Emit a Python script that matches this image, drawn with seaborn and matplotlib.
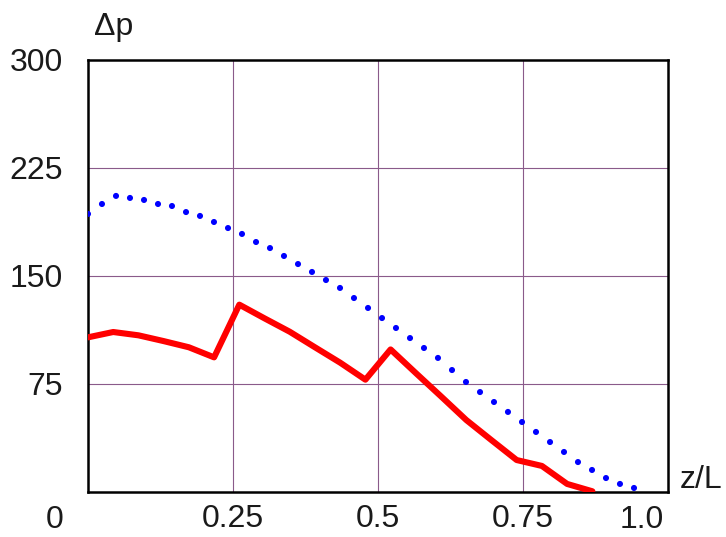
import numpy as np
import pandas as pd
import seaborn as sns
import matplotlib.pyplot as plt

# red curve (solid)
z_red = [0.0, 0.0435, 0.087, 0.1304, 0.1739, 0.2174, 0.2609, 0.3043, 0.3478, 0.3913,
         0.4348, 0.4783, 0.5217, 0.5652, 0.6087, 0.6522, 0.6957, 0.7391, 0.7826, 0.8261, 0.8696]
dp_red = [107.4, 111.1, 108.8, 104.8, 100.5, 93.5, 130.1, 120.6, 111.3, 100.5,
          89.8, 78.0, 99.0, 82.6, 66.4, 50.0, 36.0, 22.2, 18.1, 5.6, 0.5]

# blue curve (dots)
z_blue = [0.0, 0.0241, 0.0483, 0.0724, 0.0966, 0.1207, 0.1448, 0.169, 0.1931, 0.2172,
          0.2414, 0.2655, 0.2897, 0.3138, 0.3379, 0.3621, 0.3862, 0.4103, 0.4345, 0.4586,
          0.4828, 0.5069, 0.531, 0.5552, 0.5793, 0.6034, 0.6276, 0.6517, 0.6759, 0.7,
          0.7241, 0.7483, 0.7724, 0.7966, 0.8207, 0.8448, 0.869, 0.8931, 0.9172, 0.9414]
dp_blue = [193.1, 200.0, 205.6, 204.2, 202.8, 200.0, 198.6, 194.4, 191.7, 187.5,
           183.3, 179.2, 173.6, 169.4, 163.9, 158.3, 152.8, 147.2, 141.7, 134.7,
           127.8, 120.8, 113.9, 106.9, 100.0, 93.1, 84.7, 76.4, 69.4, 62.5,
           55.6, 48.6, 41.7, 34.7, 27.8, 20.8, 15.3, 9.7, 5.6, 2.8]

x_ticks = [0.25, 0.5, 0.75]
x_labels = ["0.25", "0.5", "0.75"]
y_ticks = [75, 150, 225, 300]
y_labels = ["75", "150", "225", "300"]

sns.set_style("white")
plt.rcParams['font.family'] = ['Liberation Sans', 'DejaVu Sans']
fs = 23

fig = plt.figure(figsize=(7.26, 5.37), dpi=100)
ax = fig.add_axes([0.1212, 0.0838, 0.7989, 0.8045])

red = pd.DataFrame({'z': z_red, 'dp': dp_red})
blue = pd.DataFrame({'z': z_blue, 'dp': dp_blue})

sns.lineplot(data=red, x='z', y='dp', color='#ff0000', lw=4.4, ax=ax, zorder=3)
sns.scatterplot(data=blue, x='z', y='dp', color='#0000ff', s=19, edgecolor='none', ax=ax, zorder=4)

ax.set_xlim(0, 1)
ax.set_ylim(0, 300)
ax.set_xticks(x_ticks)
ax.set_xticklabels(x_labels)
ax.set_yticks(y_ticks)
ax.set_yticklabels(y_labels)
ax.tick_params(axis='both', length=0, labelsize=fs, colors='#1a1a1a')
ax.tick_params(axis='x', pad=9)
ax.tick_params(axis='y', pad=18)
ax.set_xlabel("")
ax.set_ylabel("")

for v in x_ticks:
    ax.axvline(v, color='#8a5a8a', lw=0.8, zorder=1)
for v in [75, 150, 225]:
    ax.axhline(v, color='#8a5a8a', lw=0.8, zorder=1)

for s in ax.spines.values():
    s.set_visible(True)
    s.set_color('black')
    s.set_linewidth(1.8)

# stray labels placed like the original
fig.text(55 / 726, 1 - 520 / 537, "0", fontsize=fs, ha='center', va='center', color='#1a1a1a')
fig.text(642 / 726, 1 - 520 / 537, "1.0", fontsize=fs, ha='center', va='center', color='#1a1a1a')
fig.text(94 / 726, 1 - 27 / 537, "\u0394p", fontsize=fs, ha='left', va='center', color='#1a1a1a')
fig.text(680 / 726, 1 - 480 / 537, "z/L", fontsize=fs, ha='left', va='center', color='#1a1a1a')

fig.savefig("out.png", dpi=100)
